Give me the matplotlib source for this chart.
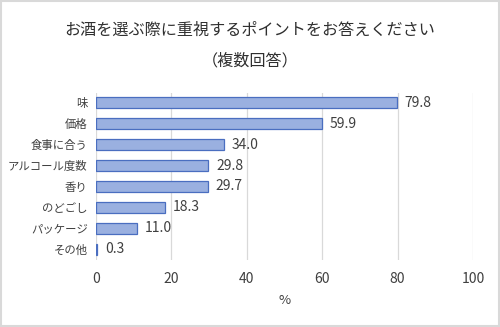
import matplotlib
matplotlib.use("Agg")
import matplotlib.pyplot as plt
from matplotlib.patches import Rectangle

plt.rcParams['font.family'] = ['Noto Sans CJK JP', 'DejaVu Sans']

title_line1 = "お酒を選ぶ際に重視するポイントをお答えください"
title_line2 = "（複数回答）"
categories = ["味", "価格", "食事に合う", "アルコール度数", "香り", "のどごし", "パッケージ", "その他"]
values = [79.8, 59.9, 34.0, 29.8, 29.7, 18.3, 11.0, 0.3]
xticks = [0, 20, 40, 60, 80, 100]
xlabel = "%"

text_color = "#404040"
grid_color = "#D9D9D9"

fig = plt.figure(figsize=(5.0, 3.27), dpi=100)
ax = fig.add_axes([0.192, 0.2064, 0.754, 0.5107])

y = list(range(len(categories)))
ax.barh(y, values, height=0.53, color="#9AB0E0", edgecolor="#4A6EC0", linewidth=0.9, zorder=3)

for yi, v in zip(y, values):
    ax.annotate(f"{v:.1f}", xy=(v, yi), xytext=(5.5, 0), textcoords="offset points",
                va="center", ha="left", fontsize=10, color=text_color)

ax.set_xlim(0, 100)
ax.set_ylim(len(categories) - 0.5, -0.5)
ax.set_xticks(xticks)
ax.set_xticklabels([str(t) for t in xticks], fontsize=10, color=text_color)
ax.set_yticks(y)
ax.set_yticklabels(categories, fontsize=8.2, color=text_color)
ax.tick_params(axis="both", length=0)
ax.tick_params(axis="x", pad=9)
ax.tick_params(axis="y", pad=6)
ax.grid(axis="x", color=grid_color, linewidth=0.9, zorder=0)
for s in ax.spines.values():
    s.set_visible(False)
ax.set_xlabel(xlabel, fontsize=9.5, color=text_color, labelpad=6)

fig.text(0.5, 0.907, title_line1, ha="center", va="center", fontsize=11.6, color="#2F2F2F")
fig.text(0.5, 0.813, title_line2, ha="center", va="center", fontsize=11.6, color="#2F2F2F")

fig.patches.append(Rectangle((0.002, 0.003), 0.996, 0.994, transform=fig.transFigure,
                             fill=False, edgecolor=grid_color, linewidth=1.5))

fig.savefig("out.png", dpi=100)
